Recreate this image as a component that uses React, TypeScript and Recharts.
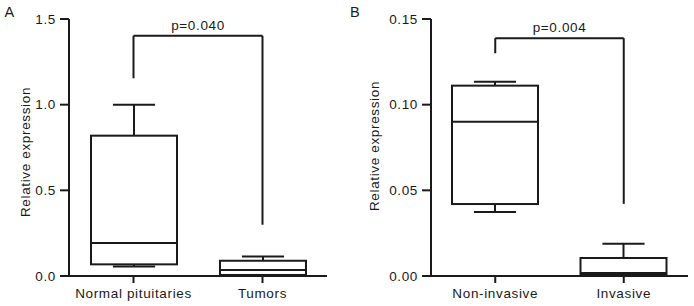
import React from 'react';
import { ComposedChart, Bar, XAxis, YAxis, ReferenceLine } from 'recharts';

const FONT = '"Liberation Sans", Arial, sans-serif';
const INK = '#1a1a1a';
const FS = 13.5;
const LS = 0.65;

// Panel A
const groupsA = ['Normal pituitaries', 'Tumors'];
const minA = [0.056, 0.002];
const q1A = [0.068, 0.006];
const medianA = [0.192, 0.035];
const q3A = [0.819, 0.089];
const maxA = [1.0, 0.114];
const ticksA = [0, 0.5, 1.0, 1.5];
const bracketA = { top: 1.402, left: 1.154, right: 0.299, label: 'p=0.040' };

// Panel B
const groupsB = ['Non-invasive', 'Invasive'];
const minB = [0.0373, 0.0003];
const q1B = [0.042, 0.0008];
const medianB = [0.0901, 0.0017];
const q3B = [0.1111, 0.0105];
const maxB = [0.1134, 0.0188];
const ticksB = [0, 0.05, 0.1, 0.15];
const bracketB = { top: 0.1388, left: 0.13, right: 0.0421, label: 'p=0.004' };

const build = (g: string[], mn: number[], q1: number[], md: number[], q3: number[], mx: number[]) =>
  g.map((group, i) => ({ group, min: mn[i], q1: q1[i], median: md[i], q3: q3[i], max: mx[i] }));

const dataA = build(groupsA, minA, q1A, medianA, q3A, maxA);
const dataB = build(groupsB, minB, q1B, medianB, q3B, maxB);

const BoxShape = (props: any) => {
  const { x, y, width, height, payload } = props;
  const { min, q1, median, q3, max } = payload;
  const top = Math.min(y, y + height);
  const bottom = Math.max(y, y + height);
  const span = max - min;
  const py = (v: number) => bottom - ((bottom - top) * (v - min)) / span;
  const cx = x + width / 2;
  const cap = width * 0.245;
  return (
    <g stroke={INK} strokeWidth={2}>
      <line x1={cx} x2={cx} y1={py(max)} y2={py(q3)} />
      <line x1={cx} x2={cx} y1={py(q1)} y2={py(min)} />
      <line x1={cx - cap} x2={cx + cap} y1={py(max)} y2={py(max)} />
      <line x1={cx - cap} x2={cx + cap} y1={py(min)} y2={py(min)} />
      <rect x={x} y={py(q3)} width={width} height={py(q1) - py(q3)} fill="#fff" />
      <line x1={x} x2={x + width} y1={py(median)} y2={py(median)} />
    </g>
  );
};

type PanelProps = {
  data: any[];
  ticks: number[];
  digits: number;
  bracket: { top: number; left: number; right: number; label: string };
  yWidth: number;
  right: number;
};

const textStyle = { fill: INK, fontSize: FS, fontFamily: FONT, letterSpacing: LS };

const Panel = ({ data, ticks, digits, bracket, yWidth, right }: PanelProps) => {
  const g0 = data[0].group;
  const g1 = data[1].group;
  const lineProps = { stroke: INK, strokeWidth: 2 };
  return (
    <ComposedChart
      width={347}
      height={306}
      data={data}
      margin={{ top: 19, right, bottom: 0, left: 0 }}
    >
      <XAxis
        dataKey="group"
        height={30}
        tickSize={7}
        tickMargin={5}
        axisLine={lineProps}
        tickLine={lineProps}
        tick={textStyle}
      />
      <YAxis
        type="number"
        domain={[ticks[0], ticks[ticks.length - 1]]}
        ticks={ticks}
        width={yWidth}
        tickSize={9}
        tickMargin={4}
        tickFormatter={(v: number) => v.toFixed(digits)}
        axisLine={lineProps}
        tickLine={lineProps}
        tick={textStyle}
      />
      <Bar
        dataKey={(d: any) => [d.min, d.max]}
        barSize={86}
        shape={BoxShape}
        isAnimationActive={false}
      />
      <ReferenceLine
        segment={[{ x: g0, y: bracket.left }, { x: g0, y: bracket.top }]}
        stroke={INK}
        strokeWidth={2}
      />
      <ReferenceLine
        segment={[{ x: g1, y: bracket.right }, { x: g1, y: bracket.top }]}
        stroke={INK}
        strokeWidth={2}
      />
      <ReferenceLine
        segment={[{ x: g0, y: bracket.top }, { x: g1, y: bracket.top }]}
        stroke={INK}
        strokeWidth={2}
        label={{ value: bracket.label, position: 'top', offset: 6, ...textStyle }}
      />
    </ComposedChart>
  );
};

export default function App() {
  return (
    <div style={{ position: 'absolute', left: 0, top: 0, width: 694, height: 306, background: '#fff' }}>
      <div style={{ display: 'flex', flexDirection: 'row' }}>
        <Panel data={dataA} ticks={ticksA} digits={1} bracket={bracketA} yWidth={69} right={20} />
        <Panel data={dataB} ticks={ticksB} digits={2} bracket={bracketB} yWidth={84} right={6} />
      </div>
      <svg
        width={694}
        height={306}
        style={{ position: 'absolute', left: 0, top: 0, pointerEvents: 'none' }}
        fontFamily={FONT}
        fill={INK}
      >
        <text x={4.5} y={17} fontSize={14.5}>A</text>
        <text x={350} y={17} fontSize={14.5}>B</text>
        <text transform="translate(29.5,152) rotate(-90)" textAnchor="middle" fontSize={FS} letterSpacing={LS}>
          Relative expression
        </text>
        <text transform="translate(378.5,146) rotate(-90)" textAnchor="middle" fontSize={FS} letterSpacing={LS}>
          Relative expression
        </text>
      </svg>
    </div>
  );
}
